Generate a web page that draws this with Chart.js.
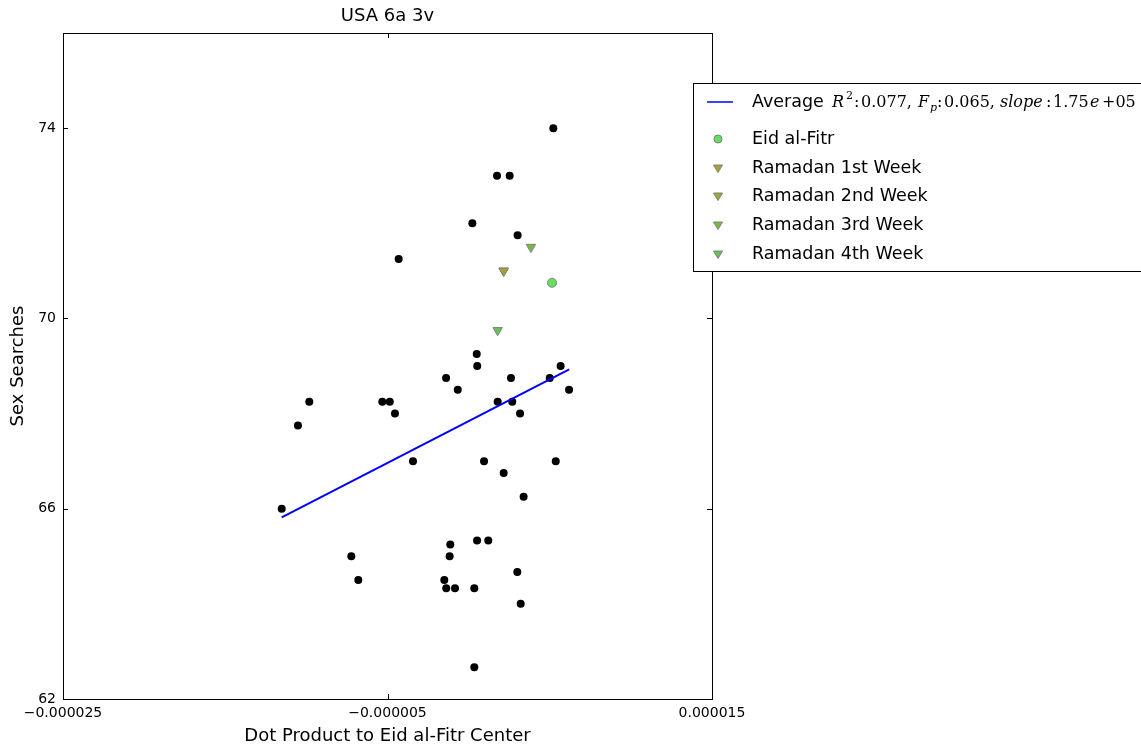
<!DOCTYPE html>
<html><head><meta charset="utf-8">
<script src="https://cdn.jsdelivr.net/npm/chart.js@4"></script>
<style>html,body{margin:0;padding:0;background:#fff;overflow:hidden}</style>
</head><body>
<canvas id="c" width="1141" height="751" style="display:block;width:1141px;height:751px"></canvas>
<script>
// ---------- data ----------
const chartTitle = "USA 6a 3v";
const xAxisTitle = "Dot Product to Eid al-Fitr Center";
const yAxisTitle = "Sex Searches";
const xTicks = [-0.000025, -0.000005, 0.000015];
const xTickLabels = ["\u22120.000025", "\u22120.000005", "0.000015"];
const yTicks = [62, 66, 70, 74];
const yTickLabels = ["62", "66", "70", "74"];

const otherX = [0.50e-6, 0.53e-6, -1.39e-6, 2.61e-6, 5.67e-6, 5.00e-6, -0.67e-6, 6.19e-6,
  -9.82e-6, -5.32e-6, -4.86e-6, 1.79e-6, 2.69e-6, -4.54e-6, 3.17e-6, -10.52e-6,
  -3.43e-6, 0.95e-6, 5.37e-6, 2.16e-6, 3.39e-6, -11.52e-6, -1.13e-6, 0.52e-6,
  1.21e-6, -1.17e-6, -7.23e-6, 3.00e-6, -6.80e-6, -1.50e-6, -1.38e-6, -0.84e-6,
  0.35e-6, 3.21e-6, 0.35e-6, 5.22e-6, 1.75e-6, 2.53e-6, 0.23e-6, 3.02e-6, -4.31e-6];
const otherY = [69.25, 69.0, 68.75, 68.75, 69.0, 68.75, 68.5, 68.5,
  68.25, 68.25, 68.25, 68.25, 68.25, 68.0, 68.0, 67.75,
  67.0, 67.0, 67.0, 66.75, 66.25, 66.0, 65.25, 65.33,
  65.33, 65.0, 65.0, 64.67, 64.5, 64.5, 64.33, 64.33,
  64.33, 64.0, 62.67, 74.0, 73.0, 73.0, 72.0, 71.75, 71.25];

const eidX = [5.14e-6];   const eidY = [70.75];
const week1X = [2.16e-6]; const week1Y = [71.0];
const week2X = [2.16e-6]; const week2Y = [71.0];
const week3X = [3.84e-6]; const week3Y = [71.5];
const week4X = [1.79e-6]; const week4Y = [69.75];

const trendX = [-11.52e-6, 6.20e-6];
const trendY = [65.82, 68.93];

const statR2 = "0.077";
const statFp = "0.065";
const statSlope = "1.75";
const statSlopeExp = "+05";

const legendLabels = ["Average", "Eid al-Fitr", "Ramadan 1st Week", "Ramadan 2nd Week", "Ramadan 3rd Week", "Ramadan 4th Week"];

// ---------- helpers ----------
const pts = (xs, ys) => xs.map((x, i) => ({x: x, y: ys[i]}));
const SANS = "'DejaVu Sans', sans-serif";
const SERIF = "'DejaVu Serif', 'Liberation Serif', serif";
const EDGE = '#808080';
const colEid = '#5ee35e';
const colW1 = '#a3a32e';
const colW2 = '#8fae38';
const colW3 = '#78bb44';
const colW4 = '#65c44e';

const decoPlugin = {
  id: 'deco',
  beforeDatasetsDraw(chart) {
    const ctx = chart.ctx, a = chart.chartArea;
    const xs = chart.scales.x, ys = chart.scales.y;
    ctx.save();
    ctx.strokeStyle = '#000';
    ctx.lineWidth = 1;
    ctx.strokeRect(Math.round(a.left) + 0.5, Math.round(a.top) + 0.5, Math.round(a.right - a.left), Math.round(a.bottom - a.top));
    ctx.beginPath();
    xTicks.forEach(v => {
      const p = Math.round(xs.getPixelForValue(v)) + 0.5;
      ctx.moveTo(p, a.bottom); ctx.lineTo(p, a.bottom - 5);
      ctx.moveTo(p, a.top); ctx.lineTo(p, a.top + 5);
    });
    yTicks.forEach(v => {
      const p = Math.round(ys.getPixelForValue(v)) + 0.5;
      ctx.moveTo(a.left, p); ctx.lineTo(a.left + 5, p);
      ctx.moveTo(a.right, p); ctx.lineTo(a.right - 5, p);
    });
    ctx.stroke();
    ctx.restore();
  },
  afterDraw(chart) {
    const ctx = chart.ctx, a = chart.chartArea;
    ctx.save();
    // title
    ctx.fillStyle = '#000';
    ctx.font = '18px ' + SANS;
    ctx.textAlign = 'center';
    ctx.textBaseline = 'middle';
    ctx.fillText(chartTitle, (a.left + a.right) / 2, 16);

    // legend box
    const bx = 693.5, by = 83.5, bw = 470, bh = 188;
    ctx.fillStyle = '#fff';
    ctx.fillRect(bx, by, bw, bh);
    ctx.strokeStyle = '#000';
    ctx.lineWidth = 1;
    ctx.strokeRect(bx, by, bw, bh);

    const tx = 752, mx = 718;
    const rows = [102, 139, 168, 196, 225, 254];
    ctx.strokeStyle = '#0000ff';
    ctx.lineWidth = 1.5;
    ctx.beginPath(); ctx.moveTo(707, rows[0]); ctx.lineTo(733, rows[0]); ctx.stroke();
    ctx.textAlign = 'left';
    ctx.textBaseline = 'alphabetic';
    ctx.fillStyle = '#000';
    const base0 = rows[0] + 5;
    ctx.font = '17.5px ' + SANS;
    ctx.fillText(legendLabels[0], tx, base0);
    // math part, placed piece by piece
    const put = (txt, font, x, dy) => { ctx.font = font; ctx.fillText(txt, x, base0 + (dy || 0)); };
    const M = '16px ' + SERIF, MI = 'italic 16px ' + SERIF, MS = 'italic 11px ' + SERIF;
    put('R', MI, 832);
    put('2', '11px ' + SERIF, 846, -8);
    put(':', M, 854);
    put(statR2 + ',', M, 861);
    put('F', MI, 918);
    put('p', MS, 930, 4);
    put(':', M, 937);
    put(statFp + ',', M, 944);
    put('slope', 'italic 16px ' + SERIF, 1000);
    put(':', M, 1046);
    put(statSlope, M, 1053);
    put('e', MI, 1090);
    put(statSlopeExp, M, 1102);

    // marker rows
    ctx.font = '17.5px ' + SANS;
    ctx.textBaseline = 'middle';
    ctx.fillStyle = '#000';
    for (let i = 1; i < rows.length; i++) ctx.fillText(legendLabels[i], tx, rows[i]);
    ctx.lineWidth = 1;
    ctx.strokeStyle = EDGE;
    ctx.fillStyle = colEid;
    ctx.beginPath(); ctx.arc(mx, rows[1], 4, 0, Math.PI * 2); ctx.fill(); ctx.stroke();
    const tri = (y, c) => {
      ctx.fillStyle = c;
      ctx.beginPath();
      ctx.moveTo(mx - 4.5, y - 3); ctx.lineTo(mx + 4.5, y - 3); ctx.lineTo(mx, y + 4.5); ctx.closePath();
      ctx.fill(); ctx.stroke();
    };
    tri(rows[2], colW1); tri(rows[3], colW2); tri(rows[4], colW3); tri(rows[5], colW4);
    ctx.restore();
  }
};

const triDs = (label, xs, ys, c) => ({
  label: label, type: 'scatter', data: pts(xs, ys),
  pointStyle: 'triangle', rotation: 180, radius: 5.5, pointRadius: 5.5,
  backgroundColor: c, borderColor: EDGE, borderWidth: 1, order: 2
});

new Chart(document.getElementById('c'), {
  type: 'scatter',
  data: {
    datasets: [
      { label: legendLabels[0], type: 'line', data: pts(trendX, trendY), borderColor: '#0000ff', borderWidth: 2,
        pointRadius: 0, fill: false, tension: 0, order: 0 },
      { label: legendLabels[1], data: pts(eidX, eidY), pointStyle: 'circle', pointRadius: 4.5,
        backgroundColor: colEid, borderColor: EDGE, borderWidth: 1, order: 1 },
      triDs(legendLabels[2], week1X, week1Y, colW1),
      triDs(legendLabels[3], week2X, week2Y, colW2),
      triDs(legendLabels[4], week3X, week3Y, colW3),
      triDs(legendLabels[5], week4X, week4Y, colW4),
      { label: 'Other', data: pts(otherX, otherY), pointStyle: 'circle', pointRadius: 4,
        backgroundColor: '#000', borderColor: '#000', borderWidth: 0, order: 5 }
    ]
  },
  options: {
    responsive: false,
    animation: false,
    devicePixelRatio: 1,
    layout: { padding: { top: 33, right: 429, left: 0, bottom: 0 } },
    plugins: { legend: { display: false }, title: { display: false }, tooltip: { enabled: false } },
    scales: {
      x: {
        type: 'linear', min: xTicks[0], max: xTicks[xTicks.length - 1], offset: false,
        grid: { display: false, drawTicks: false }, border: { display: false },
        afterBuildTicks: s => { s.ticks = xTicks.map(v => ({ value: v })); },
        afterFit: s => { s.height = 52; },
        ticks: { padding: 6, maxRotation: 0, autoSkip: false, color: '#000', font: { family: SANS, size: 14 },
          callback: v => { const i = xTicks.indexOf(v); return i >= 0 ? xTickLabels[i] : ''; } },
        title: { display: true, text: xAxisTitle, color: '#000', font: { family: SANS, size: 18 }, padding: { top: 0, bottom: 4 } }
      },
      y: {
        type: 'linear', min: 62, max: 76,
        grid: { display: false, drawTicks: false }, border: { display: false },
        afterBuildTicks: s => { s.ticks = yTicks.map(v => ({ value: v })); },
        afterFit: s => { s.width = 63; },
        ticks: { padding: 7, color: '#000', font: { family: SANS, size: 14 },
          callback: v => { const i = yTicks.indexOf(v); return i >= 0 ? yTickLabels[i] : ''; } },
        title: { display: true, text: yAxisTitle, color: '#000', font: { family: SANS, size: 18 }, padding: { top: 8, bottom: 0 } }
      }
    }
  },
  plugins: [decoPlugin]
});
</script>
</body></html>
